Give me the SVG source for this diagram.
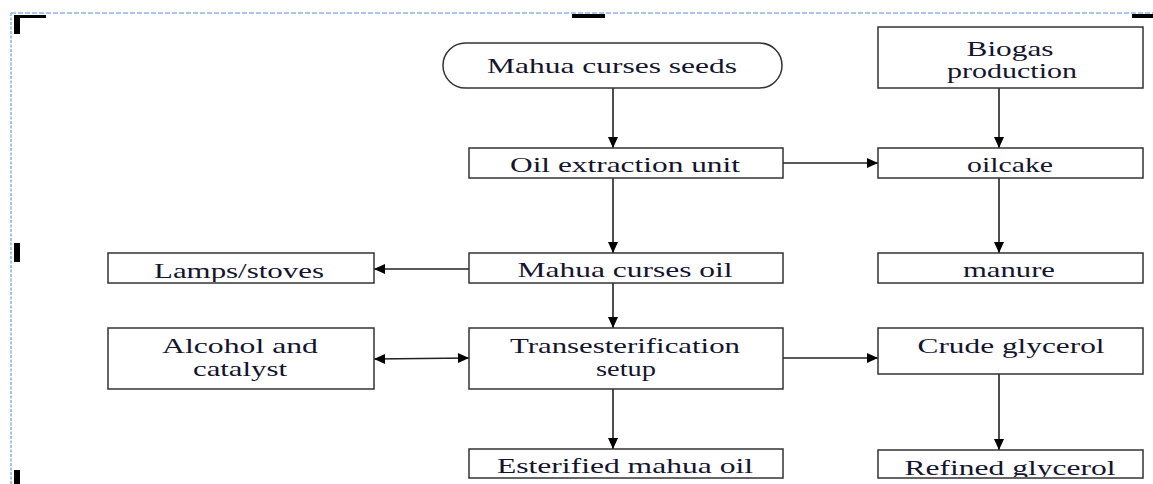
<svg xmlns="http://www.w3.org/2000/svg" width="1153" height="484" viewBox="0 0 1153 484">
<style>
.box{fill:#fff;stroke:#333;stroke-width:1.5}
.t{font-family:"Liberation Serif","Times New Roman",serif;font-size:21px;fill:#14142e;text-anchor:middle}
.c{stroke:#222;stroke-width:1.6;fill:none}
.mark{fill:#000}
</style>
<defs>
<marker id="ah" markerUnits="userSpaceOnUse" markerWidth="13" markerHeight="13" viewBox="0 0 13 13" refX="12" refY="6.5" orient="auto-start-reverse">
<path d="M1,1.5 L12,6.5 L1,11.5 Z" fill="#000"/>
</marker>
<clipPath id="cLamps"><rect x="109" y="254" width="264" height="28"/></clipPath>
<clipPath id="cEst"><rect x="470" y="450" width="312" height="27"/></clipPath>
<clipPath id="cRef"><rect x="879" y="451" width="263" height="26"/></clipPath>
</defs>
<rect width="1153" height="484" fill="#fff"/>
<g id="frame">
<line x1="11" y1="13" x2="1153" y2="13" stroke="#8fb4ec" stroke-width="1.6" stroke-dasharray="5 2"/>
<line x1="11" y1="13" x2="11" y2="484" stroke="#8fb4ec" stroke-width="1.6" stroke-dasharray="3 1.5"/>
<path class="mark" d="M14,15 H46 V18 H20 V34 H14 Z"/>
<rect class="mark" x="572" y="14" width="33" height="4"/>
<rect class="mark" x="1132" y="14" width="21" height="4"/>
<rect class="mark" x="14" y="243" width="6" height="19"/>
<rect class="mark" x="14" y="470" width="6" height="14"/>
</g>
<g id="connectors">
<line class="c" x1="613" y1="88" x2="613" y2="148" marker-end="url(#ah)"/>
<line class="c" x1="613" y1="178" x2="613" y2="253" marker-end="url(#ah)"/>
<line class="c" x1="613" y1="283" x2="613" y2="328" marker-end="url(#ah)"/>
<line class="c" x1="613" y1="389" x2="613" y2="449" marker-end="url(#ah)"/>
<line class="c" x1="783" y1="163" x2="878" y2="163" marker-end="url(#ah)"/>
<line class="c" x1="469" y1="269" x2="374" y2="269" marker-end="url(#ah)"/>
<line class="c" x1="374" y1="359" x2="469" y2="358" marker-start="url(#ah)" marker-end="url(#ah)"/>
<line class="c" x1="783" y1="358" x2="878" y2="358" marker-end="url(#ah)"/>
<line class="c" x1="999" y1="88" x2="999" y2="148" marker-end="url(#ah)"/>
<line class="c" x1="999" y1="178" x2="999" y2="253" marker-end="url(#ah)"/>
<line class="c" x1="999" y1="374" x2="999" y2="450" marker-end="url(#ah)"/>
</g>
<g id="seeds">
<rect class="box" x="443" y="43" width="339" height="45" rx="22.5" ry="22.5"/>
<text class="t" x="612" y="73" textLength="250" lengthAdjust="spacingAndGlyphs">Mahua curses seeds</text>
</g>
<g id="oil-extraction">
<rect class="box" x="469" y="148" width="314" height="30"/>
<text class="t" x="625" y="172" textLength="230" lengthAdjust="spacingAndGlyphs">Oil extraction unit</text>
</g>
<g id="mahua-oil">
<rect class="box" x="469" y="253" width="314" height="30"/>
<text class="t" x="625" y="277" textLength="215" lengthAdjust="spacingAndGlyphs">Mahua curses oil</text>
</g>
<g id="transesterification">
<rect class="box" x="469" y="328" width="314" height="61"/>
<text class="t" x="625" y="353" textLength="230" lengthAdjust="spacingAndGlyphs">Transesterification</text>
<text class="t" x="626" y="376" textLength="60" lengthAdjust="spacingAndGlyphs">setup</text>
</g>
<g id="esterified">
<rect class="box" x="469" y="449" width="314" height="29"/>
<text class="t" x="625" y="473" textLength="256" lengthAdjust="spacingAndGlyphs" clip-path="url(#cEst)">Esterified mahua oil</text>
</g>
<g id="biogas">
<rect class="box" x="878" y="27" width="265" height="61"/>
<text class="t" x="1010" y="56" textLength="87" lengthAdjust="spacingAndGlyphs">Biogas</text>
<text class="t" x="1012" y="78" textLength="130" lengthAdjust="spacingAndGlyphs">production</text>
</g>
<g id="oilcake">
<rect class="box" x="878" y="148" width="265" height="30"/>
<text class="t" x="1010" y="172" textLength="86" lengthAdjust="spacingAndGlyphs">oilcake</text>
</g>
<g id="manure">
<rect class="box" x="878" y="253" width="265" height="30"/>
<text class="t" x="1009" y="277" textLength="92" lengthAdjust="spacingAndGlyphs">manure</text>
</g>
<g id="crude-glycerol">
<rect class="box" x="878" y="328" width="265" height="46"/>
<text class="t" x="1011" y="353" textLength="187" lengthAdjust="spacingAndGlyphs">Crude glycerol</text>
</g>
<g id="refined-glycerol">
<rect class="box" x="878" y="450" width="265" height="28"/>
<text class="t" x="1010" y="475" textLength="211" lengthAdjust="spacingAndGlyphs" clip-path="url(#cRef)">Refined glycerol</text>
</g>
<g id="lamps">
<rect class="box" x="108" y="253" width="266" height="30"/>
<text class="t" x="239" y="278" textLength="170" lengthAdjust="spacingAndGlyphs" clip-path="url(#cLamps)">Lamps/stoves</text>
</g>
<g id="alcohol">
<rect class="box" x="108" y="328" width="266" height="61"/>
<text class="t" x="240" y="353" textLength="156" lengthAdjust="spacingAndGlyphs">Alcohol and</text>
<text class="t" x="240" y="376" textLength="94" lengthAdjust="spacingAndGlyphs">catalyst</text>
</g>
</svg>
